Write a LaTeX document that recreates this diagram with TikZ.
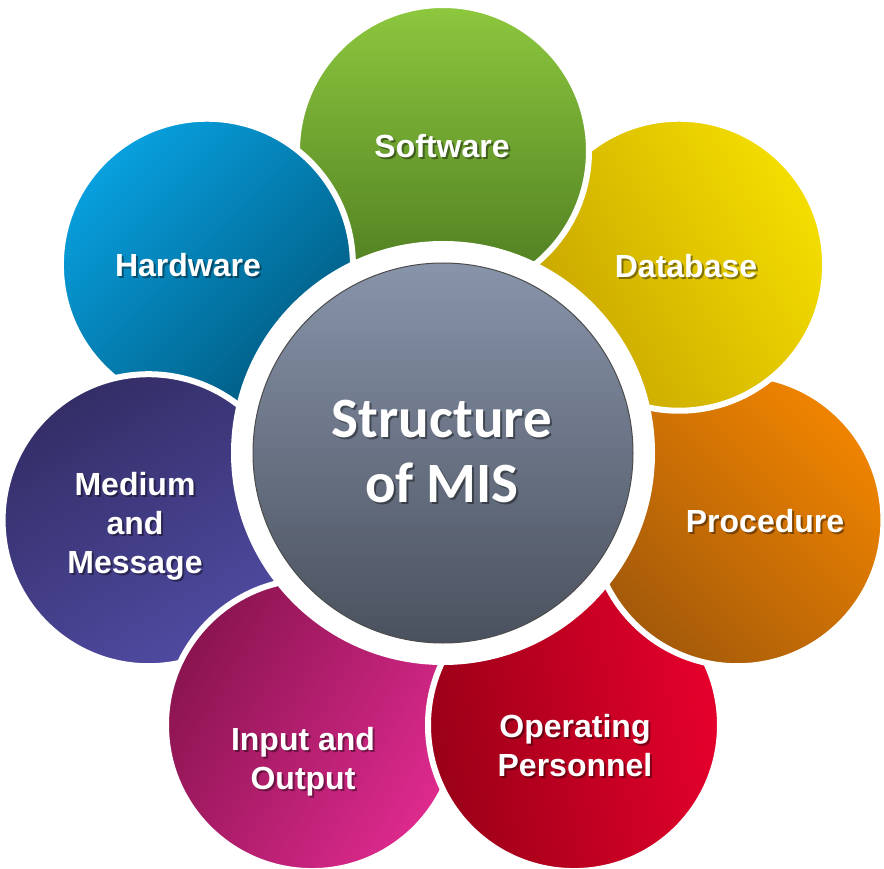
\documentclass[tikz,border=0pt]{standalone}
\usepackage{fontspec}
\setmainfont{Liberation Sans}
\newfontfamily\hubfont{Carlito}
\usetikzlibrary{calc}

\definecolor{softA}{HTML}{8DC83E}
\definecolor{softB}{HTML}{4C7A20}
\definecolor{hardA}{HTML}{08A0DF}
\definecolor{hardB}{HTML}{005A80}
\definecolor{dataA}{HTML}{F4DE00}
\definecolor{dataB}{HTML}{C8A500}
\definecolor{procA}{HTML}{F08400}
\definecolor{procB}{HTML}{A45A0A}
\definecolor{operA}{HTML}{E6002C}
\definecolor{operB}{HTML}{9A0018}
\definecolor{inA}{HTML}{DE2A8E}
\definecolor{inB}{HTML}{8A1450}
\definecolor{medA}{HTML}{504BA2}
\definecolor{medB}{HTML}{332E66}
\definecolor{hubA}{HTML}{8894AA}
\definecolor{hubB}{HTML}{4A515E}

\tikzset{
  petal/.style={circle,minimum size=292,inner sep=0,draw=white,line width=6},
  lbl/.style={font=\bfseries\fontsize{32}{39}\selectfont,text=white,align=center,inner sep=0},
  hublbl/.style={font=\hubfont\bfseries\fontsize{57}{65}\selectfont,text=white,align=center,inner sep=0}
}

% label with a soft drop shadow
\newcommand{\petaltext}[4][lbl]{%
  \node[#1,text=black,opacity=.4] at ([shift={(2,2)}]#3) {#4};
  \node[#1] (#2) at (#3) {#4};}

\begin{document}
\begin{tikzpicture}[x=1pt,y=-1pt]
	\useasboundingbox (0,0) rectangle (884,869);
	\coordinate (hub) at (443,453);
	% petal centres, 7 around the hub
	\coordinate (sw) at ($(hub)+(-90:302)$);
	\coordinate (hw) at ($(hub)+(-141.43:302)$);
	\coordinate (mm) at ($(hub)+(-192.86:302)$);
	\coordinate (io) at ($(hub)+(-244.29:302)$);
	\coordinate (op) at ($(hub)+(-295.71:302)$);
	\coordinate (pr) at ($(hub)+(-347.14:302)$);
	\coordinate (db) at ($(hub)+(-38.57:302)$);

	\node[petal,top color=dataA,bottom color=dataB,shading angle=-60] (database) at (db) {};
	\node[petal,top color=softA,bottom color=softB] (software) at (sw) {};
	\node[petal,top color=hardA,bottom color=hardB,shading angle=45] (hardware) at (hw) {};
	\node[petal,top color=medB,bottom color=medA,shading angle=30] (medium) at (mm) {};
	\node[petal,top color=inB,bottom color=inA,shading angle=60] (inout) at (io) {};
	\node[petal,top color=operA,bottom color=operB,shading angle=-80] (operating) at (op) {};
	\node[petal,top color=procA,bottom color=procB,shading angle=-45] (procedure) at (pr) {};
	% close the ring: database lies over procedure
	\begin{scope}
		\clip (540,345) rectangle (884,869);
		\node[petal,top color=dataA,bottom color=dataB,shading angle=-60] at (db) {};
	\end{scope}

	% hub
	\fill[white] (hub) circle (212);
	\node[circle,minimum size=380,inner sep=0,draw=black!70,line width=1,
	      top color=hubA,bottom color=hubB] (core) at (hub) {};

	\petaltext{tsw}{442,146}{Software}
	\petaltext{thw}{188,265}{Hardware}
	\petaltext{tdb}{686,266}{Database}
	\petaltext{tpr}{765,521}{Procedure}
	\petaltext{tmm}{135,526}{Medium\\and\\Message}
	\petaltext{tio}{303,762}{Input and\\Output}
	\petaltext{top}{575,746}{Operating\\Personnel}
	\petaltext[hublbl]{thub}{442,452}{Structure\\of MIS}
\end{tikzpicture}
\end{document}
